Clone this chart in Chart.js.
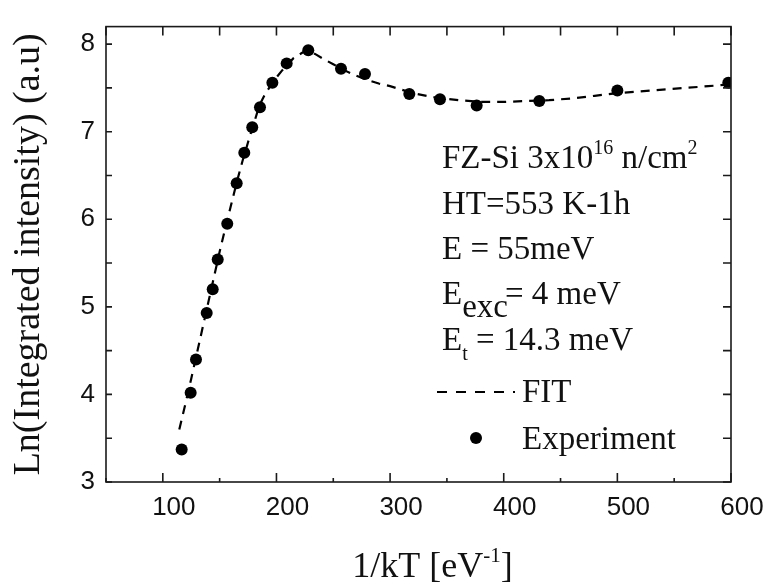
<!DOCTYPE html>
<html>
<head>
<meta charset="utf-8">
<script src="https://cdn.jsdelivr.net/npm/chart.js@4.4.0/dist/chart.umd.min.js"></script>
<style>
  html, body { margin: 0; padding: 0; background: #ffffff; }
  #wrap { width: 767px; height: 586px; }
</style>
</head>
<body>
<div id="wrap"><canvas id="c" width="767" height="586"></canvas></div>
<script>
// ---- data ----
const expX = [116.6, 124.5, 129.2, 138.6, 143.9, 148.3, 156.7, 165.0, 171.7, 178.7, 185.5, 196.4, 209.0, 228.0, 256.8, 277.9, 316.9, 343.9, 376.2, 431.3, 500.0, 597.6];
const expY = [3.37, 4.02, 4.40, 4.93, 5.20, 5.54, 5.95, 6.41, 6.76, 7.05, 7.28, 7.56, 7.78, 7.93, 7.72, 7.66, 7.43, 7.37, 7.30, 7.35, 7.47, 7.56];
const fitX = [114.5, 120, 125, 130, 135, 140, 145, 150, 155, 160, 165, 170, 175, 180, 185, 190, 195, 200, 205, 210, 215, 220, 225, 228, 235, 240, 250, 260, 270, 280, 290, 300, 320, 340, 360, 380, 400, 420, 440, 460, 480, 500, 520, 540, 560, 580, 600];
const fitY = [3.60, 3.90, 4.18, 4.47, 4.76, 5.05, 5.34, 5.63, 5.90, 6.16, 6.42, 6.66, 6.88, 7.09, 7.30, 7.43, 7.53, 7.62, 7.70, 7.77, 7.84, 7.88, 7.92, 7.93, 7.88, 7.84, 7.77, 7.70, 7.64, 7.59, 7.55, 7.52, 7.44, 7.39, 7.36, 7.34, 7.34, 7.35, 7.36, 7.38, 7.41, 7.44, 7.46, 7.48, 7.50, 7.52, 7.54];
const xLabeledTicks = [100, 200, 300, 400, 500, 600];
const yLabeledTicks = [3, 4, 5, 6, 7, 8];
const xRange = [50, 600];
const yRange = [3, 8.2];
const seriesNames = ['FIT', 'Experiment'];
const yTitle = 'Ln(Integrated intensity) (a.u)';

const SERIF = '"Liberation Serif", "Times New Roman", serif';
const SANS = '"Liberation Sans", Arial, sans-serif';
const INK = '#111111';

function drawRich(ctx, x, y, parts, baseSize) {
  let cx = x;
  for (const p of parts) {
    const size = p.size || baseSize;
    ctx.font = size + 'px ' + SERIF;
    ctx.fillText(p.t, cx, y + (p.dy || 0));
    cx += ctx.measureText(p.t).width + (p.gap || 0);
  }
  return cx;
}

const decorPlugin = {
  id: 'decor',
  afterDraw(chart) {
    const ctx = chart.ctx;
    const a = chart.chartArea;
    const xs = chart.scales.x, ys = chart.scales.y;
    ctx.save();
    ctx.strokeStyle = '#1a1a1a';
    ctx.lineWidth = 1.6;
    ctx.setLineDash([]);
    // frame
    ctx.strokeRect(a.left, a.top, a.right - a.left, a.bottom - a.top);
    // inward tick marks
    ctx.beginPath();
    xs.ticks.forEach(t => {
      const px = xs.getPixelForValue(t.value);
      const major = xLabeledTicks.includes(t.value);
      ctx.moveTo(px, a.bottom); ctx.lineTo(px, a.bottom - (major ? 9 : 4));
      ctx.moveTo(px, a.top); ctx.lineTo(px, a.top + 9);
    });
    ys.ticks.forEach(t => {
      const py = ys.getPixelForValue(t.value);
      ctx.moveTo(a.left, py); ctx.lineTo(a.left + 6, py);
      ctx.moveTo(a.right, py); ctx.lineTo(a.right - 8, py);
    });
    ctx.stroke();

    // annotation text
    ctx.fillStyle = INK;
    ctx.textBaseline = 'alphabetic';
    ctx.textAlign = 'left';
    const fs = 33;
    const tx = 442;
    drawRich(ctx, tx, 168, [
      {t: 'FZ-Si 3x10'}, {t: '16', size: 20, dy: -14}, {t: ' n/cm'}, {t: '2', size: 20, dy: -14}
    ], fs);
    drawRich(ctx, tx, 214, [{t: 'HT=553 K-1h'}], fs);
    drawRich(ctx, tx, 259, [{t: 'E = 55meV'}], fs);
    drawRich(ctx, tx, 304, [{t: 'E'}, {t: 'exc', dy: 13, gap: -3}, {t: '= 4 meV'}], fs);
    drawRich(ctx, tx, 350, [{t: 'E'}, {t: 't', size: 20, dy: 10}, {t: ' = 14.3 meV'}], fs);

    // legend
    ctx.strokeStyle = '#000';
    ctx.lineWidth = 2.2;
    ctx.setLineDash([10, 9]);
    ctx.beginPath();
    ctx.moveTo(437, 392); ctx.lineTo(515, 392);
    ctx.stroke();
    ctx.setLineDash([]);
    drawRich(ctx, 522, 402, [{t: seriesNames[0]}], fs);
    ctx.beginPath();
    ctx.fillStyle = '#000';
    ctx.arc(476, 438, 6, 0, Math.PI * 2);
    ctx.fill();
    ctx.fillStyle = INK;
    drawRich(ctx, 522, 449, [{t: seriesNames[1]}], fs);

    // x axis title with superscript
    const xt = [{t: '1/kT [eV'}, {t: '-1', size: 21, dy: -15}, {t: ']'}];
    let w = 0;
    xt.forEach(p => { ctx.font = (p.size || 36) + 'px ' + SERIF; w += ctx.measureText(p.t).width; });
    const cx = (a.left + a.right) / 2 + 14;
    drawRich(ctx, cx - w / 2, 577, xt, 36);
    ctx.restore();
  }
};

new Chart(document.getElementById('c'), {
  type: 'scatter',
  data: {
    datasets: [
      {
        label: seriesNames[0],
        type: 'line',
        data: fitX.map((x, i) => ({x: x, y: fitY[i]})),
        borderColor: '#000',
        borderWidth: 2.2,
        borderDash: [9, 7],
        pointRadius: 0,
        fill: false,
        tension: 0,
        order: 2
      },
      {
        label: seriesNames[1],
        data: expX.map((x, i) => ({x: x, y: expY[i]})),
        backgroundColor: '#000',
        borderColor: '#000',
        borderWidth: 0,
        pointRadius: 6,
        clip: 0,
        order: 1
      }
    ]
  },
  options: {
    responsive: false,
    animation: false,
    devicePixelRatio: 1,
    layout: { padding: { top: 10, right: 36, left: 0, bottom: 0 } },
    plugins: { legend: { display: false }, tooltip: { enabled: false } },
    scales: {
      x: {
        type: 'linear', position: 'bottom',
        min: xRange[0], max: xRange[1],
        grid: { display: false, drawTicks: false },
        border: { display: false },
        ticks: {
          stepSize: 50, autoSkip: false, maxRotation: 0, includeBounds: false,
          padding: 10, labelOffset: 11,
          color: INK,
          font: { family: SANS, size: 26 },
          callback: v => xLabeledTicks.includes(v) ? String(v) : ''
        },
        afterFit: s => { s.height = 104; }
      },
      y: {
        type: 'linear', position: 'left',
        min: yRange[0], max: yRange[1],
        grid: { display: false, drawTicks: false },
        border: { display: false },
        ticks: {
          stepSize: 0.5, autoSkip: false, includeBounds: false,
          padding: 11,
          color: INK,
          font: { family: SANS, size: 26 },
          callback: v => yLabeledTicks.includes(v) ? String(v) : ''
        },
        title: {
          display: true, text: yTitle, color: INK,
          font: { family: SERIF, size: 38, lineHeight: 1 },
          padding: { top: 10, bottom: 0 }
        },
        afterFit: s => { s.width = 106; }
      }
    }
  },
  plugins: [decorPlugin]
});
</script>
</body>
</html>
